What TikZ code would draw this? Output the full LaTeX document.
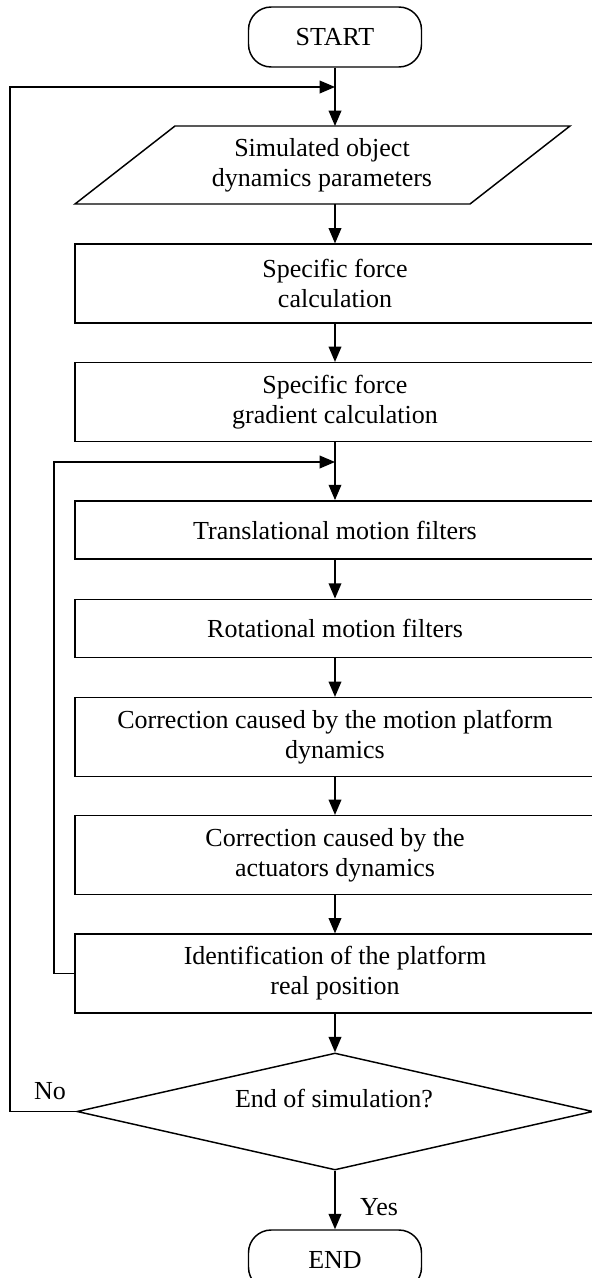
\documentclass[tikz,border=0pt]{standalone}
\usepackage{fontspec}
\setmainfont{Liberation Serif}
\usetikzlibrary{shapes.geometric,arrows.meta}
\begin{document}
\begin{tikzpicture}[x=0.75pt,y=-0.75pt,
 line width=1.1pt,
 every node/.style={font=\fontsize{19.5}{22.5}\selectfont},
 proc/.style={draw, rectangle, minimum width=390pt, align=center, inner sep=0pt},
 twoline/.style={proc, minimum height=59pt},
 oneline/.style={proc, minimum height=43.75pt},
 term/.style={draw, rounded corners=17pt, minimum width=129.75pt, minimum height=45pt, inner sep=0pt},
 decision/.style={draw, diamond, aspect=4.4, minimum width=387pt, minimum height=87.75pt, inner sep=0pt},
 flow/.style={-{Triangle[length=11.5pt,width=9.5pt]}},
 lbl/.style={inner sep=0pt},
]
\useasboundingbox (0,0) rectangle (592,1278);

% terminals
\node[term] (start) at (335,37) {START};
\node[term] (end) at (335,1260) {END};

% input parallelogram
\draw (175,126) -- (570,126) -- (470,204) -- (75,204) -- cycle;
\node[align=center, lbl] (param) at (322,165) {Simulated object\\dynamics parameters};
\coordinate (ptop) at (335,126);
\coordinate (pbot) at (335,204);

% process boxes
\node[twoline] (force) at (335,283.5) {Specific force\\calculation};
\node[twoline] (grad) at (335,402) {Specific force\\gradient calculation};
\node[oneline] (trans) at (335,530) {Translational motion filters};
\node[oneline] (rot) at (335,628.5) {Rotational motion filters};
\node[twoline] (corr1) at (335,737) {Correction caused by the motion platform\\dynamics};
\node[twoline] (corr2) at (335,855) {Correction caused by the\\actuators dynamics};
\node[twoline] (ident) at (335,973.5) {Identification of the platform\\real position};

% decision
\node[decision] (dec) at (335,1111.5) {};
\node[lbl] (dectext) at (334,1099) {End of simulation?};

% labels
\node[lbl] (no) at (50,1091) {No};
\node[lbl] (yes) at (379,1207) {Yes};

% merge points and loop corners
\coordinate (m1) at (335,87);
\coordinate (m2) at (335,462);
\coordinate (o1) at (10,1111.5);
\coordinate (o2) at (10,87);
\coordinate (i1) at (54,973.5);
\coordinate (i2) at (54,462);

% main flow
\draw[flow] (start.south) -- (ptop);
\draw[flow] (pbot) -- (force.north);
\draw[flow] (force.south) -- (grad.north);
\draw[flow] (grad.south) -- (trans.north);
\draw[flow] (trans.south) -- (rot.north);
\draw[flow] (rot.south) -- (corr1.north);
\draw[flow] (corr1.south) -- (corr2.north);
\draw[flow] (corr2.south) -- (ident.north);
\draw[flow] (ident.south) -- (dec.north);
\draw[flow] (dec.south) -- (end.north);

% loops
\draw[flow] (dec.west) -- (o1) -- (o2) -- (m1);
\draw[flow] (ident.west) -- (i1) -- (i2) -- (m2);
\end{tikzpicture}
\end{document}
